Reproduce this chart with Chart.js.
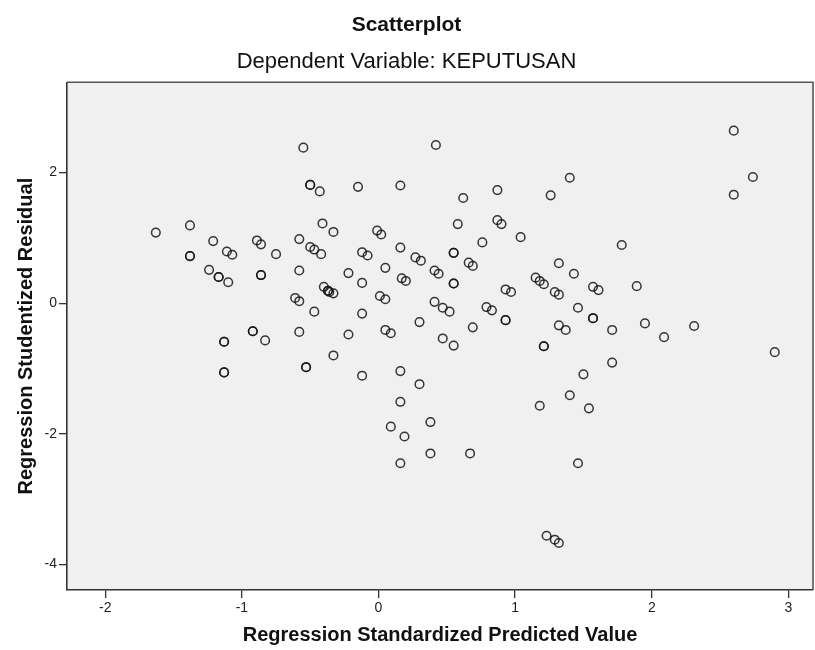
<!DOCTYPE html>
<html>
<head>
<meta charset="utf-8">
<script src="https://cdn.jsdelivr.net/npm/chart.js@4.4.0/dist/chart.umd.min.js"></script>
<style>
  body { margin: 0; background: #fff; }
  canvas { display: block; }
</style>
</head>
<body>
<canvas id="scatter" width="815" height="650"></canvas>
<script>
// values (repeated entries = overlapping cases)
var predictedValues = [
  -1.63, -1.38, -1.38, -1.38, -1.21, -1.11, -1.07, -1.24, -1.17, -1.17, -1.10,
  -0.89, -0.86, -0.75, -0.86, -0.86, -0.92, -0.92, -1.13, -1.13, -0.83, -1.13, -1.13,
  -0.55, -0.50, -0.50, -0.43, -0.15, -0.41, -0.33, -0.58, -0.50, -0.47, -0.42,
  -0.12, -0.08, -0.58, -0.22, -0.12, -0.40, -0.37, -0.37, -0.36, -0.33, -0.61,
  -0.58, -0.47, -0.12, -0.58, -0.22, -0.33, -0.53, -0.53, -0.12,
  -0.01, 0.02, 0.05, 0.01, 0.05, 0.05, 0.09, 0.16, 0.42, 0.62, 0.87, 1.26, 1.40,
  0.58, 0.87, 0.90, 1.04, 0.76, 0.16, 0.27, 0.31, 0.55, 0.55, 0.66, 0.69, 0.41,
  0.44, 0.55, 0.55, 0.17, 0.20, 0.41, 0.47, 0.52, 0.30, 0.69, 0.79, 0.83, 0.93,
  0.97, 0.93, 0.93, 1.15, 1.18, 1.21, 1.32, 1.43, 1.29, 1.32, 1.46, 1.57, 1.61,
  1.57, 1.57, 1.32, 1.37, 1.71, 1.78, 1.89, 1.95, 2.09, 2.31, 2.60, 2.74, 2.60,
  2.90, 0.47, 0.55, 1.21, 1.21, 1.71, 1.50, 1.40, 1.18, 1.54, 1.46, 1.23, 1.29,
  1.32, 0.16, 0.30, 0.16, 0.09, 0.19, 0.38, 0.38, 0.67, 0.16
];
var residualValues = [
  1.08, 1.19, 0.72, 0.72, 0.95, 0.79, 0.74, 0.51, 0.40, 0.40, 0.32,
  0.96, 0.90, 0.75, 0.43, 0.43, -0.43, -0.43, -0.59, -0.59, -0.57, -1.06, -1.06,
  2.38, 1.81, 1.81, 1.71, 1.78, 1.22, 1.09, 0.98, 0.86, 0.82, 0.75,
  0.78, 0.73, 0.50, 0.46, 0.31, 0.25, 0.19, 0.19, 0.17, 0.15, 0.08,
  0.03, -0.13, -0.16, -0.44, -0.48, -0.80, -0.98, -0.98, -1.11,
  1.11, 1.05, 0.54, 0.11, 0.06, -0.41, -0.46, 1.80, 2.42, 1.61, 1.73, 1.65, 1.92,
  1.21, 1.27, 1.21, 1.01, 0.93, 0.85, 0.70, 0.65, 0.77, 0.77, 0.62, 0.57, 0.50,
  0.45, 0.30, 0.30, 0.38, 0.34, 0.02, -0.07, -0.13, -0.29, -0.37, -0.06, -0.11, 0.21,
  0.17, -0.26, -0.26, 0.39, 0.34, 0.29, 0.61, 0.45, 0.17, 0.13, -0.07, 0.25, 0.20,
  -0.23, -0.23, -0.34, -0.41, -0.41, 0.89, 0.26, -0.31, -0.52, -0.35, 2.64, 1.93, 1.66,
  -0.75, -0.54, -0.65, -0.66, -0.66, -0.91, -1.09, -1.41, -1.57, -1.61, -2.45, -3.56, -3.62,
  -3.67, -1.04, -1.24, -1.51, -1.89, -2.04, -1.82, -2.30, -2.30, -2.45
];
var xTickStep = 1;
var yTickStep = 2;

var points = predictedValues.map(function (x, i) {
  return { x: x, y: residualValues[i] };
});

var plotFrame = {
  id: 'plotFrame',
  beforeDraw: function (chart) {
    var a = chart.chartArea, ctx = chart.ctx;
    ctx.save();
    ctx.fillStyle = '#f0f0f0';
    ctx.fillRect(a.left, a.top, a.right - a.left, a.bottom - a.top);
    ctx.restore();
  },
  afterDatasetsDraw: function (chart) {
    var a = chart.chartArea, ctx = chart.ctx;
    ctx.save();
    ctx.strokeStyle = '#555';
    ctx.lineWidth = 1.6;
    ctx.beginPath();
    ctx.moveTo(a.left, a.top);
    ctx.lineTo(a.right, a.top);
    ctx.lineTo(a.right, a.bottom);
    ctx.stroke();
    ctx.restore();
  }
};

var font = "'Liberation Sans', Arial, sans-serif";

new Chart(document.getElementById('scatter'), {
  type: 'scatter',
  data: {
    datasets: [{
      data: points,
      pointStyle: 'circle',
      pointRadius: 4.3,
      pointHoverRadius: 4.3,
      pointBorderWidth: 1.5,
      pointBorderColor: 'rgba(20, 20, 20, 0.85)',
      pointBackgroundColor: 'rgba(0, 0, 0, 0)'
    }]
  },
  options: {
    responsive: false,
    animation: false,
    layout: { autoPadding: false, padding: { left: 0, right: 2, top: 0, bottom: 0 } },
    scales: {
      x: {
        type: 'linear',
        min: -2.28,
        max: 3.18,
        afterFit: function (scale) {
          scale.height = 60;
          scale.paddingLeft = 0;
          scale.paddingRight = 0;
        },
        ticks: {
          stepSize: xTickStep,
          includeBounds: false,
          padding: 2,
          color: '#222',
          font: { family: font, size: 14 }
        },
        grid: { drawOnChartArea: false, tickLength: 8, color: '#333', lineWidth: 1.3 },
        border: { color: '#333', width: 1.6 },
        title: {
          display: true,
          text: 'Regression Standardized Predicted Value',
          color: '#111',
          padding: { top: 0, bottom: 3 },
          font: { family: font, size: 20, weight: 'bold' }
        }
      },
      y: {
        type: 'linear',
        min: -4.39,
        max: 3.38,
        afterFit: function (scale) { scale.width = 67; },
        ticks: {
          stepSize: yTickStep,
          includeBounds: false,
          padding: 2,
          color: '#222',
          font: { family: font, size: 14 }
        },
        grid: { drawOnChartArea: false, tickLength: 8, color: '#333', lineWidth: 1.3 },
        border: { color: '#333', width: 1.6 },
        title: {
          display: true,
          text: 'Regression Studentized Residual',
          color: '#111',
          padding: { top: 14, bottom: 0 },
          font: { family: font, size: 20, weight: 'bold' }
        }
      }
    },
    plugins: {
      legend: { display: false },
      tooltip: { enabled: false },
      title: {
        display: true,
        text: 'Scatterplot',
        color: '#111',
        padding: { top: 13, bottom: 0 },
        font: { family: font, size: 21, weight: 'bold', lineHeight: 1.2 }
      },
      subtitle: {
        display: true,
        text: 'Dependent Variable: KEPUTUSAN',
        color: '#111',
        padding: { top: 11, bottom: 7.8 },
        font: { family: font, size: 22, weight: 'normal', lineHeight: 1.15 }
      }
    }
  },
  plugins: [plotFrame]
});
</script>
</body>
</html>
